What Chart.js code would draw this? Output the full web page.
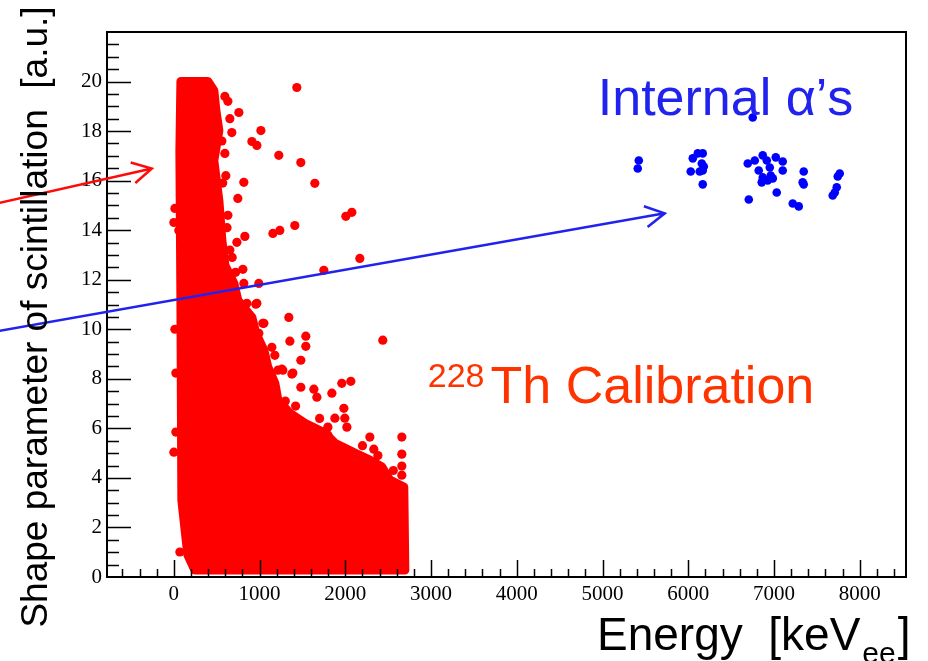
<!DOCTYPE html>
<html lang="en">
<head>
  <meta charset="UTF-8">
  <title>Shape parameter vs energy</title>
  <script src="https://cdn.jsdelivr.net/npm/chart.js"></script>
  <style>
    body { margin: 0; background: #fff; }
    #wrap { width: 928px; height: 661px; }
  </style>
</head>
<body>
  <div id="wrap"><canvas id="psdChart" width="928" height="661"></canvas></div>
  <script>
    // axis ticks
    const xTickValues = [0, 1000, 2000, 3000, 4000, 5000, 6000, 7000, 8000];
    const yTickValues = [0, 2, 4, 6, 8, 10, 12, 14, 16, 18, 20];

    // outline of the dense 228Th band (centres of the outermost events)
    const bandEnergy = [82, 397, 466, 490, 525, 466, 525, 560, 595, 700, 746, 910, 956, 1050, 1096, 1178, 1213,
      1353, 1528, 1761, 1878, 2111, 2286, 2426, 2519, 2682, 2694, 245, 163, 93, 82, 70, 82];
    const bandShape = [20.0, 20.0, 19.64, 18.83, 18.02, 16.81, 15.2, 13.59, 12.58, 11.85, 11.17, 10.48, 9.84, 9.15, 8.47, 7.82, 7.14,
      6.61, 6.21, 5.81, 5.40, 5.0, 4.72, 4.44, 3.91, 3.63, 0.28, 0.28, 0.89, 3.1, 11.17, 17.2, 20.0];

    // isolated calibration events outside the band
    const calEnergy = [1434, 758, 595, 1015, 676, 910, 968, 595, 1224, 1481, 1644, 816, 746, 1411, 1236, 1155, 828, 735,
      805, 816, 991, 851, 956, 1341, 1038, 0, 58, 12, 2006, 2076, 1749, 2169, 2437, 1539, 1539, 1353, 1481, 1376, 1260,
      1959, 2064, 1843, 1481, 1633, 1668, 1983, 1878, 1994, 2018, 1796, 1796, 2286, 2659, 2659, 2659, 2659, 2332,
      23, 0, 70, 12, 23, 968, 863, 886, 1050, 991, 1143, 1178, 1213, 1271, 1388,
      630, 653, 606, 630, 653, 560, 570, 620, 680, 720, 1300, 1420, 1700, 2200, 2380, 2560];
    const calShape = [19.76, 18.75, 19.40, 18.02, 17.94, 17.58, 17.42, 17.10, 17.02, 16.73, 15.89, 15.93, 15.28, 14.19, 13.99, 13.87, 13.75, 13.51,
      12.42, 11.85, 11.85, 11.05, 11.01, 10.48, 10.24, 14.31, 13.99, 14.88, 14.56, 14.72, 12.38, 12.86, 9.56, 9.72, 9.31, 9.52, 8.75, 8.19, 8.39,
      7.82, 7.90, 7.42, 7.66, 7.58, 7.26, 6.81, 6.41, 6.41, 6.05, 6.05, 5.73, 5.65, 5.65, 4.96, 4.48, 4.11, 5.16,
      5.85, 5.04, 1.01, 10.0, 8.23, 11.05, 10.44, 10.08, 10.24, 9.84, 9.27, 8.95, 8.35, 8.35, 8.23,
      19.2, 18.5, 16.2, 14.6, 13.2, 17.6, 15.9, 14.1, 12.9, 12.3, 7.1, 6.9, 6.4, 5.3, 4.9, 4.3];

    // internal alpha events
    const alphaEnergy = [6752, 5423, 5411, 6053, 6111, 6169, 6029, 6158, 6181, 6169, 6134, 6169, 6694, 6776, 6869, 6916, 6951,
      7021, 7102, 6822, 6869, 6857, 6927, 6986, 6962, 7102, 6706, 7032, 7219, 7289, 7347, 7335, 7347, 7767, 7744, 7732, 7709, 7685];
    const alphaShape = [18.55, 16.81, 16.49, 16.90, 17.10, 17.10, 16.37, 16.69, 16.57, 16.41, 16.37, 15.85, 16.69, 16.81, 17.02, 16.81, 16.53,
      16.94, 16.77, 16.41, 16.13, 15.93, 16.01, 16.09, 16.21, 16.41, 15.24, 15.52, 15.08, 14.96, 16.37, 15.93, 15.85, 16.29, 16.17, 15.73, 15.52, 15.40];

    // arrows pointing at the two populations: [start, tip] in axis units
    const redArrow = [[-2100, 15.05], [-257, 16.49]];
    const blueArrow = [[-2100, 9.9], [5726, 14.68]];

    const toPoints = (xs, ys) => xs.map((v, i) => ({ x: v, y: ys[i] }));

    const rootFrame = {
      id: 'rootFrame',
      afterDatasetsDraw(chart) {
        const { ctx, chartArea: a, scales: { x, y } } = chart;
        ctx.save();
        ctx.strokeStyle = '#000';
        ctx.lineWidth = 1.5;
        ctx.beginPath();
        for (let v = -600; v <= 8400; v += 200) {
          const px = Math.round(x.getPixelForValue(v)) + 0.5;
          const len = v % 1000 === 0 ? 17 : 8;
          ctx.moveTo(px, a.bottom);
          ctx.lineTo(px, a.bottom - len);
        }
        for (let v = 0.5; v < 22; v += 0.5) {
          const py = Math.round(y.getPixelForValue(v)) + 0.5;
          const len = v % 2 === 0 ? 24 : 12;
          ctx.moveTo(a.left, py);
          ctx.lineTo(a.left + len, py);
        }
        ctx.stroke();
        ctx.lineWidth = 2;
        ctx.strokeRect(a.left, a.top, a.right - a.left, a.bottom - a.top);
        ctx.restore();
      },
      afterDraw(chart) {
        const { ctx, scales: { x, y } } = chart;
        ctx.save();

        const arrow = (pts, color) => {
          const x0 = x.getPixelForValue(pts[0][0]), y0 = y.getPixelForValue(pts[0][1]);
          const x1 = x.getPixelForValue(pts[1][0]), y1 = y.getPixelForValue(pts[1][1]);
          const ang = Math.atan2(y1 - y0, x1 - x0);
          ctx.strokeStyle = color;
          ctx.lineWidth = 2.5;
          ctx.beginPath();
          ctx.moveTo(x0, y0);
          ctx.lineTo(x1, y1);
          ctx.moveTo(x1 - 22 * Math.cos(ang - 0.5), y1 - 22 * Math.sin(ang - 0.5));
          ctx.lineTo(x1, y1);
          ctx.lineTo(x1 - 22 * Math.cos(ang + 0.5), y1 - 22 * Math.sin(ang + 0.5));
          ctx.stroke();
        };
        arrow(redArrow, '#ff0a0a');
        arrow(blueArrow, '#2222ee');

        // labels inside the frame
        ctx.textBaseline = 'alphabetic';
        ctx.textAlign = 'left';
        ctx.fillStyle = '#2222ee';
        ctx.font = '52px "Liberation Sans", Arial, sans-serif';
        ctx.fillText('Internal α’s', x.getPixelForValue(4945), y.getPixelForValue(18.63));

        ctx.fillStyle = '#ff3300';
        const thX = x.getPixelForValue(2962);
        ctx.font = '34px "Liberation Sans", Arial, sans-serif';
        ctx.fillText('228', thX, y.getPixelForValue(7.66));
        const supW = ctx.measureText('228').width;
        ctx.font = '52px "Liberation Sans", Arial, sans-serif';
        ctx.fillText('Th Calibration', thX + supW + 6, y.getPixelForValue(7.02));

        // axis titles
        ctx.fillStyle = '#000';
        ctx.font = '46px "Liberation Sans", Arial, sans-serif';
        let tx = 597;
        ctx.fillText('Energy  [keV', tx, 650);
        tx += ctx.measureText('Energy  [keV').width + 2;
        ctx.font = '30px "Liberation Sans", Arial, sans-serif';
        ctx.fillText('ee', tx, 663);
        tx += ctx.measureText('ee').width + 2;
        ctx.font = '46px "Liberation Sans", Arial, sans-serif';
        ctx.fillText(']', tx, 650);

        ctx.translate(47, 317);
        ctx.rotate(-Math.PI / 2);
        ctx.textAlign = 'center';
        ctx.font = '37px "Liberation Sans", Arial, sans-serif';
        ctx.fillText('Shape parameter of scintillation  [a.u.]', 0, 0);
        ctx.restore();
      }
    };

    const serifTicks = { family: '"Liberation Serif", "Times New Roman", serif', size: 21 };

    new Chart(document.getElementById('psdChart'), {
      type: 'scatter',
      data: {
        datasets: [
          {
            label: '228Th band',
            data: toPoints(bandEnergy, bandShape),
            showLine: true,
            fill: 'shape',
            backgroundColor: '#ff0000',
            borderColor: '#ff0000',
            borderWidth: 9,
            borderJoinStyle: 'round',
            borderCapStyle: 'round',
            tension: 0,
            pointRadius: 0
          },
          {
            label: '228Th events',
            data: toPoints(calEnergy, calShape),
            backgroundColor: '#ff0000',
            borderWidth: 0,
            pointRadius: 4.6
          },
          {
            label: 'Internal alphas',
            data: toPoints(alphaEnergy, alphaShape),
            backgroundColor: '#0000ff',
            borderWidth: 0,
            pointRadius: 4.3
          }
        ]
      },
      options: {
        responsive: false,
        animation: false,
        layout: { padding: { top: 32, right: 22, left: 0, bottom: 0 } },
        plugins: { legend: { display: false }, tooltip: { enabled: false } },
        scales: {
          x: {
            type: 'linear',
            min: -780,
            max: 8540,
            afterBuildTicks: (s) => { s.ticks = xTickValues.map(v => ({ value: v })); },
            afterFit: (s) => { s.height = 84; },
            grid: { display: false, drawTicks: false },
            border: { display: false },
            ticks: { color: '#000', font: serifTicks, padding: 5, maxRotation: 0, autoSkip: false, callback: (v) => String(v) }
          },
          y: {
            type: 'linear',
            min: 0,
            max: 22,
            afterBuildTicks: (s) => { s.ticks = yTickValues.map(v => ({ value: v })); },
            afterFit: (s) => { s.width = 107; },
            grid: { display: false, drawTicks: false },
            border: { display: false },
            ticks: { color: '#000', font: serifTicks, padding: 5, autoSkip: false, callback: (v) => String(v) }
          }
        }
      },
      plugins: [rootFrame]
    });
  </script>
</body>
</html>
